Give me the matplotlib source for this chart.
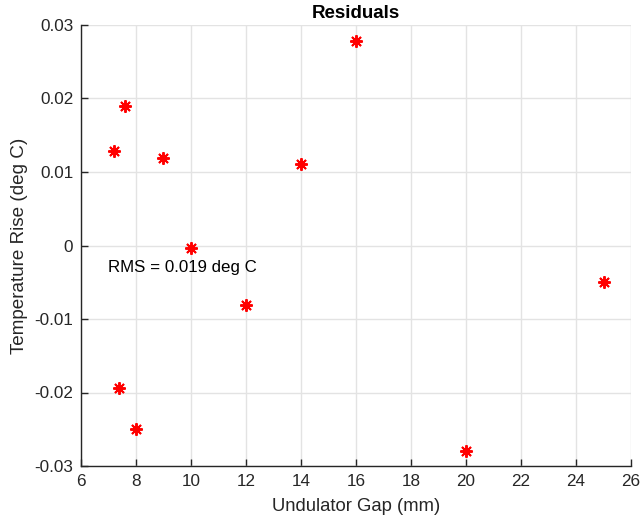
import matplotlib
matplotlib.use("Agg")
import matplotlib.pyplot as plt

# Residuals of the temperature-rise fit versus undulator gap
gap_mm = [7.2, 7.6, 9.0, 10.0, 12.0, 14.0, 16.0, 7.4, 8.0, 20.0, 25.0]
residual_degC = [0.0128, 0.0190, 0.0119, -0.0003, -0.0081, 0.0111, 0.0278,
                 -0.0194, -0.0249, -0.0280, -0.0050]
x_ticks = [6, 8, 10, 12, 14, 16, 18, 20, 22, 24, 26]
y_ticks = [-0.03, -0.02, -0.01, 0, 0.01, 0.02, 0.03]
y_tick_labels = ["-0.03", "-0.02", "-0.01", "0", "0.01", "0.02", "0.03"]
rms_text = "RMS = 0.019 deg C"

plt.rcParams["font.family"] = ["Liberation Sans", "DejaVu Sans"]

fig = plt.figure(figsize=(6.4, 5.22), dpi=100)
ax = fig.add_axes([81 / 640, 1 - 466 / 522, 550 / 640, 441 / 522])

# eight-armed asterisk markers
ax.plot(gap_mm, residual_degC, linestyle="none", marker=(8, 2, 0), color="red",
        markersize=9, markeredgewidth=1.4)

ax.set_xlim(6, 26)
ax.set_ylim(-0.03, 0.03)
ax.set_xticks(x_ticks)
ax.set_yticks(y_ticks)
ax.set_yticklabels(y_tick_labels)

ax.grid(True, color="#e3e3e3", linewidth=1.0)
ax.set_axisbelow(True)
for side in ("top", "right"):
    ax.spines[side].set_visible(False)
for side in ("bottom", "left"):
    ax.spines[side].set_color("#262626")
    ax.spines[side].set_linewidth(1.0)
ax.tick_params(direction="in", length=5, width=1.0, color="#262626",
               labelcolor="#262626", labelsize=12.3)
ax.tick_params(axis="x", pad=6)
ax.tick_params(axis="y", pad=5.5)

ax.set_xlabel("Undulator Gap (mm)", fontsize=13.3, color="#262626", labelpad=6)
ax.set_ylabel("Temperature Rise (deg C)", fontsize=13.6, color="#262626", labelpad=5)
ax.set_title("Residuals", fontsize=13.5, fontweight="bold", color="black", pad=5)

ax.text(7.0, -0.003, rms_text, fontsize=12.2, color="black", va="center", ha="left")

fig.savefig("out.png", dpi=100)
